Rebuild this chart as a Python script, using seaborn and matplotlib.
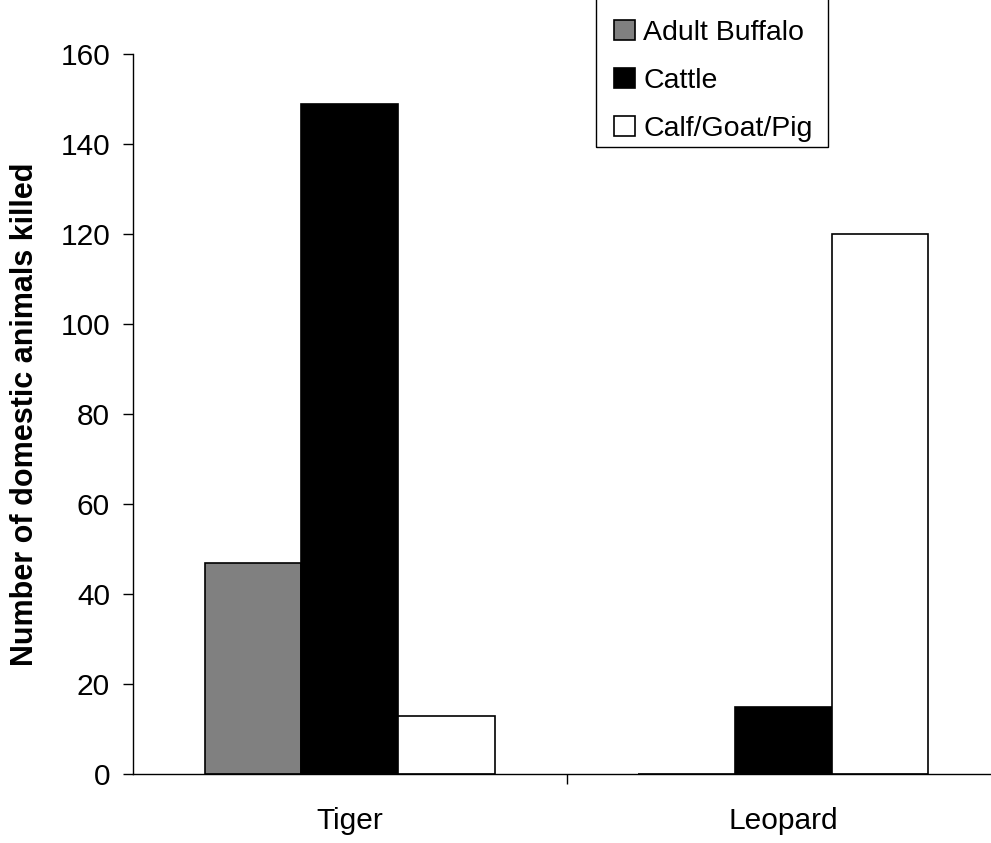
import matplotlib
matplotlib.use("Agg")
import matplotlib.pyplot as plt
from matplotlib.patches import Rectangle
import seaborn as sns
import pandas as pd

predators = ["Tiger", "Leopard"]
prey_types = ["Adult Buffalo", "Cattle", "Calf/Goat/Pig"]
adult_buffalo = [47, 0]
cattle = [149, 15]
calf_goat_pig = [13, 120]
colors = ["#808080", "#000000", "#ffffff"]
y_ticks = [0, 20, 40, 60, 80, 100, 120, 140, 160]

rows = []
for prey, vals in zip(prey_types, [adult_buffalo, cattle, calf_goat_pig]):
    for pred, v in zip(predators, vals):
        rows.append({"Predator": pred, "Prey": prey, "Count": v})
df = pd.DataFrame(rows)

sns.set_style("white")
plt.rcParams["font.family"] = ["Liberation Sans", "DejaVu Sans"]
plt.rcParams["text.color"] = "black"
plt.rcParams["axes.labelcolor"] = "black"
plt.rcParams["xtick.color"] = "black"
plt.rcParams["ytick.color"] = "black"

fig = plt.figure(figsize=(9.91, 8.43), dpi=100)
ax = fig.add_axes([133 / 991, 69 / 843, 867 / 991, 720 / 843])

sns.barplot(data=df, x="Predator", y="Count", hue="Prey", order=predators,
            hue_order=prey_types, palette=colors, width=0.67, gap=0,
            edgecolor="black", linewidth=1.2, ax=ax, legend=True)

ax.set_xlim(-0.5, 1.5)
ax.set_ylim(0, 160)
ax.set_yticks(y_ticks)
ax.tick_params(axis="y", direction="out", length=7, width=1, left=True,
               labelsize=21.5, pad=9.5, colors="black")
ax.set_xticks([0, 1])
ax.set_xticks([0.5], minor=True)
ax.tick_params(axis="x", which="major", length=0, labelsize=21.5, pad=24,
               colors="black")
ax.tick_params(axis="x", which="minor", direction="out", length=7, width=1,
               bottom=True, color="black")
ax.set_xlabel("")
ax.set_ylabel("Number of domestic animals killed", fontsize=22,
              fontweight="bold", labelpad=14.5, color="black")
for s in ["top", "right"]:
    ax.spines[s].set_visible(False)
for s in ["left", "bottom"]:
    ax.spines[s].set_color("black")
    ax.spines[s].set_linewidth(1)

handles, labels = ax.get_legend_handles_labels()
ax.get_legend().remove()
leg = fig.legend(handles, labels, loc="upper left",
                 bbox_to_anchor=(614 / 991, 1 - 19.5 / 843), fontsize=20.5,
                 frameon=False, handlelength=0.72, handleheight=0.72,
                 handletextpad=0.3, labelspacing=0.78, borderpad=0,
                 borderaxespad=0)
fig.patches.append(Rectangle((596 / 991, 1 - 147 / 843), 232 / 991, 152 / 843,
                             transform=fig.transFigure, fill=False,
                             edgecolor="black", linewidth=1))

fig.savefig("out.png", dpi=100)
